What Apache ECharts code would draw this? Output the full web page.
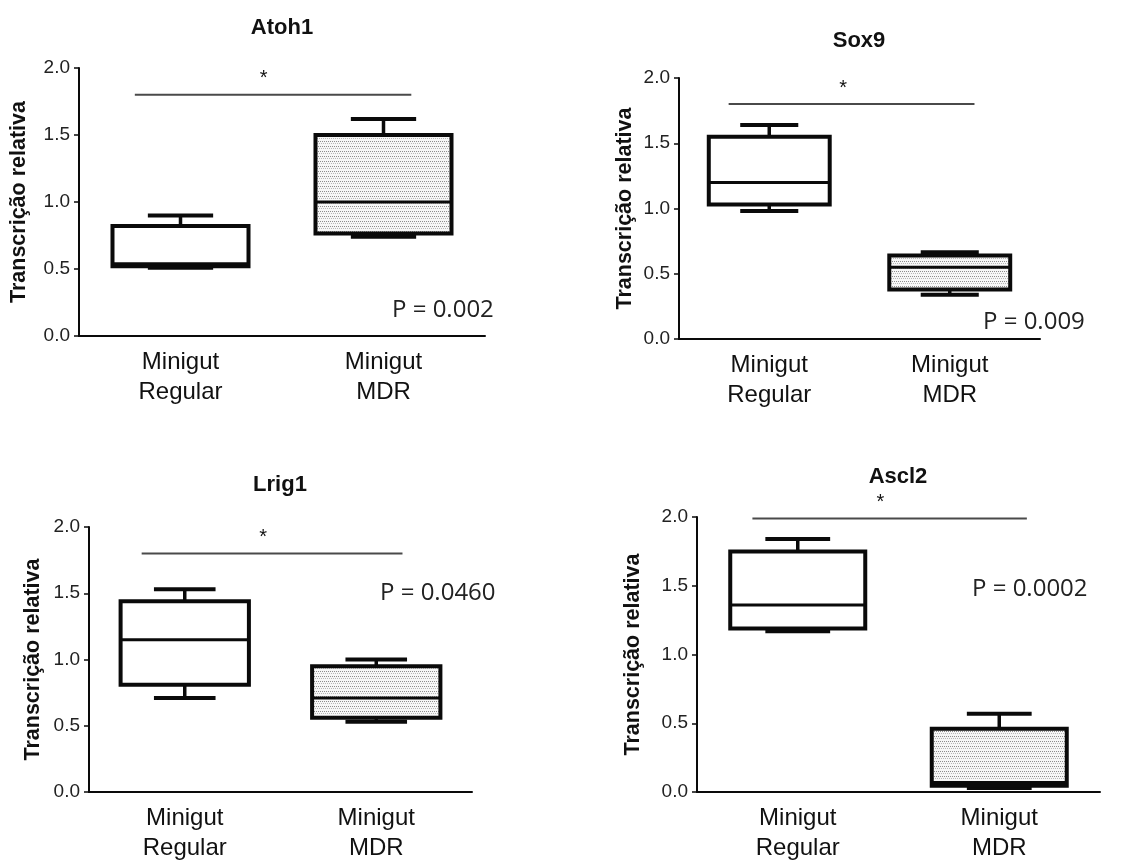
<!DOCTYPE html>
<html>
<head>
<meta charset="utf-8">
<script src="https://cdn.jsdelivr.net/npm/echarts@6/dist/echarts.min.js"></script>
<style>html,body{margin:0;padding:0;background:#fff}#c{width:1129px;height:863px}</style>
</head>
<body>
<div id="c"></div>
<script>
// ---- data ----
const categories = ['Minigut\nRegular', 'Minigut\nMDR'];
const genes = ['Atoh1', 'Sox9', 'Lrig1', 'Ascl2'];
// [min, q1, median, q3, max]
const atoh1Regular = [0.51, 0.52, 0.54, 0.82, 0.90];
const atoh1MDR     = [0.74, 0.765, 1.00, 1.50, 1.62];
const sox9Regular  = [0.98, 1.03, 1.20, 1.55, 1.64];
const sox9MDR      = [0.34, 0.38, 0.55, 0.64, 0.665];
const lrig1Regular = [0.71, 0.81, 1.15, 1.44, 1.53];
const lrig1MDR     = [0.53, 0.56, 0.71, 0.95, 1.00];
const ascl2Regular = [1.17, 1.19, 1.36, 1.75, 1.84];
const ascl2MDR     = [0.03, 0.045, 0.07, 0.46, 0.57];
const pValues = ['P = 0.002', 'P = 0.009', 'P = 0.0460', 'P = 0.0002'];
const sigLevels = [1.8, 1.8, 1.8, 1.99];
const yTicks = ['0.0', '0.5', '1.0', '1.5', '2.0'];
const yAxisTitle = 'Transcrição relativa';

const groups = [
  [atoh1Regular, atoh1MDR],
  [sox9Regular, sox9MDR],
  [lrig1Regular, lrig1MDR],
  [ascl2Regular, ascl2MDR]
];

// ---- layout ----
const grids = [
  {left: 79, top: 68, width: 406, height: 268, nameGap: 49},
  {left: 679, top: 78, width: 361, height: 261, nameGap: 43},
  {left: 89, top: 527, width: 383, height: 273, nameGap: 45},
  {left: 697, top: 517, width: 403, height: 277, nameGap: 53}
];
const titlePos = [[282, 17], [859, 30], [280, 474], [898, 466]];
const pPos = [[392, 298], [983, 310], [380, 581], [972, 577]];

// dotted pattern
const pc = document.createElement('canvas');
pc.width = 4; pc.height = 5;
const g = pc.getContext('2d');
g.fillStyle = '#f7f7f7'; g.fillRect(0, 0, 4, 5);
g.fillStyle = '#8c8c8c'; g.fillRect(0, 1, 1, 1); g.fillRect(2, 1, 1, 1);
g.fillStyle = '#b8b8b8'; g.fillRect(1, 3, 1, 1); g.fillRect(3, 3, 1, 1);
const pattern = {image: pc, repeat: 'repeat'};

const LINE = '#0a0a0a';

function boxRender(params, api) {
  const idx = api.value(0);
  const v = [api.value(1), api.value(2), api.value(3), api.value(4), api.value(5)];
  const cx = api.coord([idx, 0])[0];
  const band = api.size([1, 0])[0];
  const bw = band * 0.67, cw = bw * 0.48;
  const y = v.map(function (val) { return api.coord([idx, val])[1]; });
  const st = {stroke: LINE, lineWidth: 4, fill: null};
  return {
    type: 'group',
    children: [
      {type: 'line', shape: {x1: cx, y1: y[3], x2: cx, y2: y[4]}, style: {stroke: LINE, lineWidth: 3.5}},
      {type: 'line', shape: {x1: cx, y1: y[1], x2: cx, y2: y[0]}, style: {stroke: LINE, lineWidth: 3.5}},
      {type: 'line', shape: {x1: cx - cw / 2, y1: y[4], x2: cx + cw / 2, y2: y[4]}, style: st},
      {type: 'line', shape: {x1: cx - cw / 2, y1: y[0], x2: cx + cw / 2, y2: y[0]}, style: st},
      {type: 'rect', shape: {x: cx - bw / 2, y: y[3], width: bw, height: y[1] - y[3]},
        style: {fill: idx === 1 ? pattern : '#ffffff', stroke: LINE, lineWidth: 4}},
      {type: 'line', shape: {x1: cx - bw / 2, y1: y[2], x2: cx + bw / 2, y2: y[2]}, style: {stroke: LINE, lineWidth: 3}}
    ]
  };
}

function sigRender(params, api) {
  const lvl = api.value(1);
  const c0 = api.coord([0, lvl]);
  const c1 = api.coord([1, lvl]);
  const band = api.size([1, 0])[0];
  const mid = (c0[0] + c1[0]) / 2 - 0.09 * band;
  return {
    type: 'group',
    children: [
      {type: 'line', shape: {x1: c0[0] - 0.225 * band, y1: c0[1], x2: c1[0] + 0.137 * band, y2: c0[1]},
        style: {stroke: '#4a4a4a', lineWidth: 2}},
      {type: 'text', x: mid, y: c0[1] - 6,
        style: {text: '*', fill: '#111', fontSize: 20, fontFamily: 'Liberation Sans', align: 'center', verticalAlign: 'bottom'}}
    ]
  };
}

const option = {
  animation: false,
  backgroundColor: '#ffffff',
  title: genes.map(function (name, i) {
    return {text: name, left: titlePos[i][0], top: titlePos[i][1], textAlign: 'center', padding: 0,
      textStyle: {fontSize: 22, fontWeight: 'bold', fontFamily: 'Liberation Sans', color: '#111'}};
  }),
  grid: grids.map(function (gd) {
    return {left: gd.left, top: gd.top, width: gd.width, height: gd.height, containLabel: false};
  }),
  xAxis: grids.map(function (gd, i) {
    return {
      type: 'category', gridIndex: i, data: categories,
      axisLine: {lineStyle: {color: LINE, width: 2}},
      axisTick: {alignWithLabel: true, length: 7, lineStyle: {color: LINE, width: 2}},
      axisLabel: {margin: 11, fontSize: 24, lineHeight: 30, color: '#111', fontFamily: 'Liberation Sans'},
      splitLine: {show: false}
    };
  }),
  yAxis: grids.map(function (gd, i) {
    return {
      type: 'value', gridIndex: i, min: 0, max: 2, interval: 0.5,
      name: yAxisTitle, nameLocation: 'middle', nameGap: gd.nameGap,
      nameTextStyle: {fontSize: 21.5, fontWeight: 'bold', fontFamily: 'Liberation Sans', color: '#111'},
      axisLine: {show: true, lineStyle: {color: LINE, width: 2}},
      axisTick: {show: true, length: 5, lineStyle: {color: LINE, width: 1.5}},
      axisLabel: {margin: 9, fontSize: 19, color: '#222', fontFamily: 'Liberation Sans',
        formatter: function (v) { return yTicks[Math.round(v / 0.5)]; }},
      splitLine: {show: false}
    };
  }),
  graphic: pValues.map(function (t, i) {
    return {type: 'text', left: pPos[i][0], top: pPos[i][1],
      style: {text: t, fontSize: 24, fontFamily: 'Open Sans', fill: '#222'}};
  }),
  series: []
};

groups.forEach(function (grp, i) {
  option.series.push({
    type: 'custom', xAxisIndex: i, yAxisIndex: i,
    renderItem: boxRender,
    encode: {x: 0, y: [1, 2, 3, 4, 5]},
    data: [[0].concat(grp[0]), [1].concat(grp[1])],
    z: 3
  });
  option.series.push({
    type: 'custom', xAxisIndex: i, yAxisIndex: i,
    renderItem: sigRender,
    encode: {x: 0, y: 1},
    data: [[0, sigLevels[i]]],
    z: 4
  });
});

const chart = echarts.init(document.getElementById('c'), null, {renderer: 'canvas'});
chart.setOption(option);
</script>
</body>
</html>
